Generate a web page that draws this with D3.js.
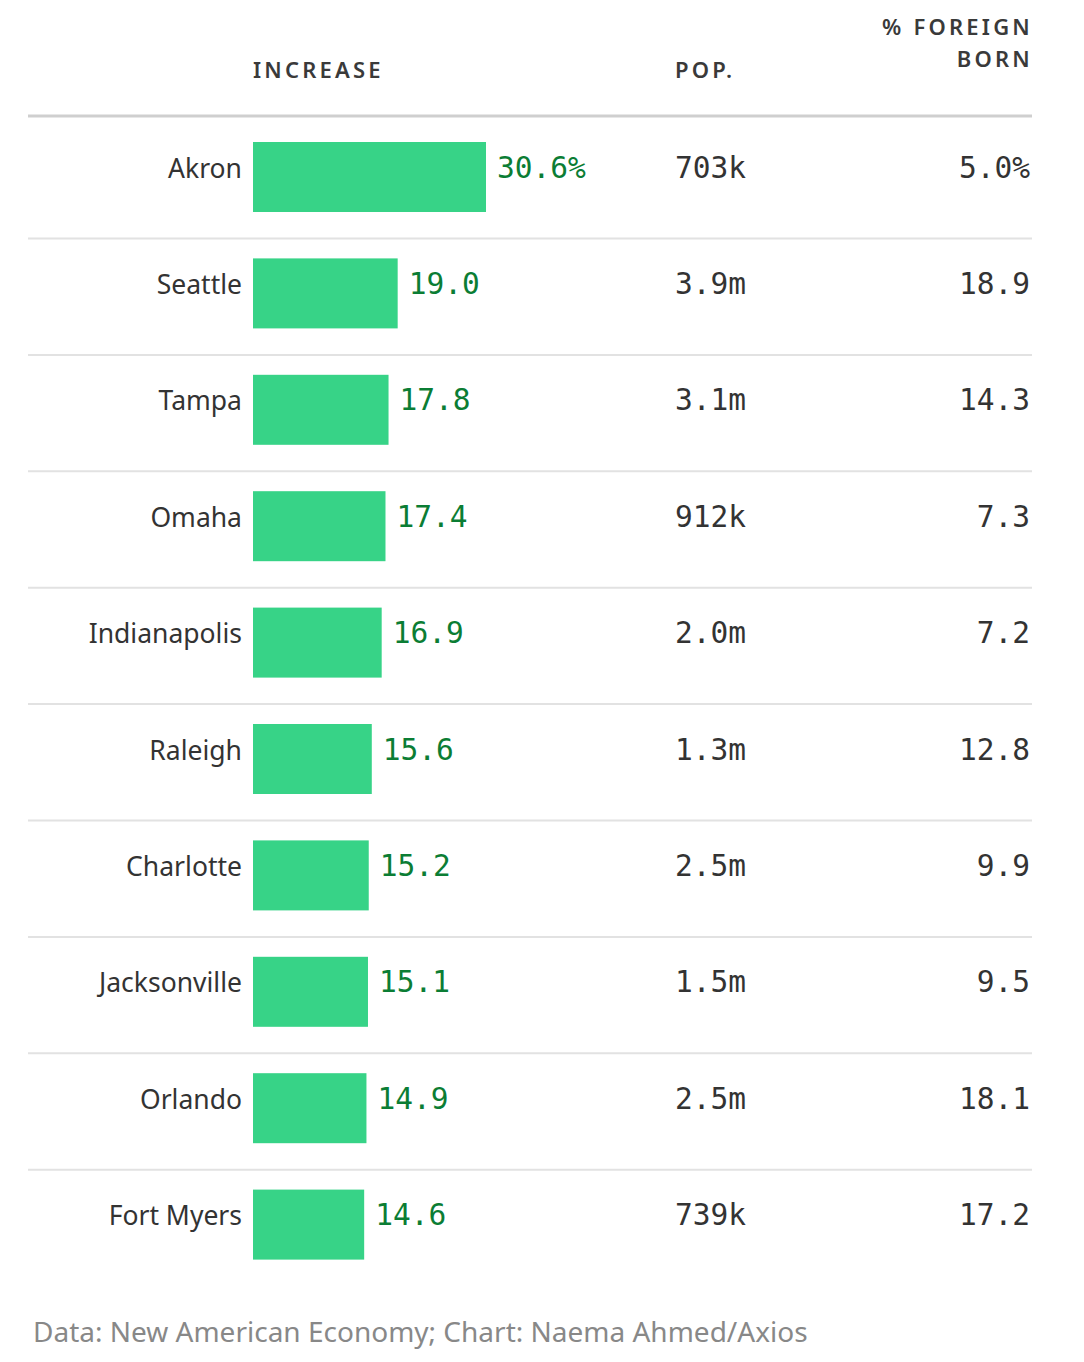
<!DOCTYPE html>
<html>
<head>
<meta charset="utf-8">
<script src="https://cdn.jsdelivr.net/npm/d3@7"></script>
<style>
  body { margin: 0; background: #fff; }
  svg { display: block; }
</style>
</head>
<body>
<svg id="chart" width="1084" height="1362"></svg>
<script>
// data
const cities = ["Akron", "Seattle", "Tampa", "Omaha", "Indianapolis", "Raleigh", "Charlotte", "Jacksonville", "Orlando", "Fort Myers"];
const increase = [30.6, 19.0, 17.8, 17.4, 16.9, 15.6, 15.2, 15.1, 14.9, 14.6];
const popLabels = ["703k", "3.9m", "3.1m", "912k", "2.0m", "1.3m", "2.5m", "1.5m", "2.5m", "739k"];
const foreignBorn = [5.0, 18.9, 14.3, 7.3, 7.2, 12.8, 9.9, 9.5, 18.1, 17.2];

let svg = d3.select("#chart");
let sans = "'Noto Sans', Lato, sans-serif";
let mono = "'DejaVu Sans Mono', monospace";

let left = 28, right = 1032, numRight = 1030;
let barX = 253, popX = 675;

let yScale = d3.scalePoint()
    .domain(cities)
    .range([176.5, 1224.1]);

let xScale = d3.scaleLinear()
    .domain([0, d3.max(increase)])
    .range([barX, 486]);

let rows = cities.map((c, i) => ({city: c, inc: increase[i], pop: popLabels[i], fb: foreignBorn[i]}));

// header
let header = svg.append("g")
    .attr("font-family", sans)
    .attr("font-size", 22)
    .attr("font-weight", 600)
    .attr("letter-spacing", 3.2)
    .attr("fill", "#3a3a3a");
header.append("text").attr("x", barX).attr("y", 78).text("INCREASE");
header.append("text").attr("x", popX).attr("y", 78).text("POP.");
// trailing letter-spacing pushes end-anchored text left, so nudge right
header.append("text").attr("x", numRight + 3).attr("y", 35).attr("text-anchor", "end").text("% FOREIGN");
header.append("text").attr("x", numRight + 3).attr("y", 67).attr("text-anchor", "end").text("BORN");

svg.append("line")
    .attr("x1", left).attr("x2", right)
    .attr("y1", 116).attr("y2", 116)
    .attr("stroke", "#cfcfcf")
    .attr("stroke-width", 3);

// separators between rows
svg.append("g").selectAll("line")
    .data(rows.slice(0, -1))
    .join("line")
    .attr("x1", left).attr("x2", right)
    .attr("y1", d => yScale(d.city) + 62)
    .attr("y2", d => yScale(d.city) + 62)
    .attr("stroke", "#e2e2e2")
    .attr("stroke-width", 2);

let row = svg.append("g").selectAll("g")
    .data(rows)
    .join("g")
    .attr("transform", d => "translate(0," + yScale(d.city) + ")");

row.append("rect")
    .attr("x", barX)
    .attr("y", -34.5)
    .attr("width", d => xScale(d.inc) - barX)
    .attr("height", 70)
    .attr("fill", "#37d387");

row.append("text")
    .attr("x", 242)
    .attr("y", 1)
    .attr("text-anchor", "end")
    .attr("font-family", sans)
    .attr("font-size", 26.5)
    .attr("fill", "#333")
    .text(d => d.city);

row.append("text")
    .attr("x", d => xScale(d.inc) + 11)
    .attr("y", 1)
    .attr("font-family", mono)
    .attr("font-size", 29.5)
    .attr("fill", "#0b7d34")
    .text((d, i) => d3.format(".1f")(d.inc) + (i == 0 ? "%" : ""));

row.append("text")
    .attr("x", popX)
    .attr("y", 1)
    .attr("font-family", mono)
    .attr("font-size", 29.5)
    .attr("fill", "#333")
    .text(d => d.pop);

row.append("text")
    .attr("x", numRight)
    .attr("y", 1)
    .attr("text-anchor", "end")
    .attr("font-family", mono)
    .attr("font-size", 29.5)
    .attr("fill", "#333")
    .text((d, i) => d3.format(".1f")(d.fb) + (i == 0 ? "%" : ""));

svg.append("text")
    .attr("x", 33)
    .attr("y", 1342)
    .attr("font-family", sans)
    .attr("font-size", 28)
    .attr("fill", "#888")
    .text("Data: New American Economy; Chart: Naema Ahmed/Axios");
</script>
</body>
</html>
